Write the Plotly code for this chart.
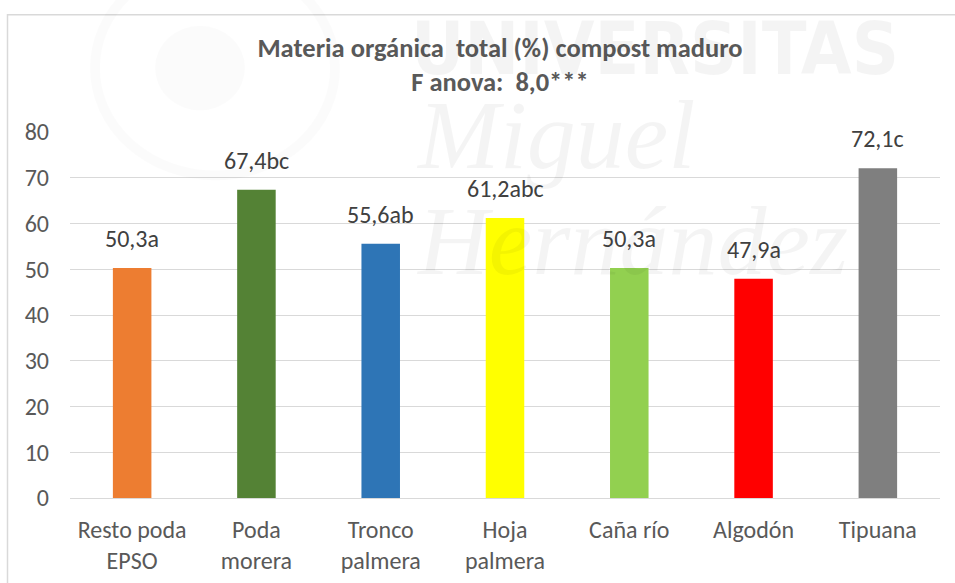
import plotly.graph_objects as go

categories = ["Resto poda<br>EPSO", "Poda<br>morera", "Tronco<br>palmera", "Hoja<br>palmera", "Caña río", "Algodón", "Tipuana"]
values = [50.3, 67.4, 55.6, 61.2, 50.3, 47.9, 72.1]
letters = ["a", "bc", "ab", "abc", "a", "a", "c"]
colors = ["#ED7D31", "#548235", "#2E75B6", "#FFFF00", "#92D050", "#FF0000", "#7F7F7F"]
y_ticks = [0, 10, 20, 30, 40, 50, 60, 70, 80]

FONT = "Carlito, Calibri, 'Liberation Sans Narrow', 'DejaVu Sans Condensed', sans-serif"

labels = [f"{v:.1f}".replace(".", ",") + l for v, l in zip(values, letters)]

W, H = 955, 583
L, R, T, B = 70, 15, 131.5, 85
PW, PH = W - L - R, H - T - B


def px(x):
    return (x - L) / PW


def py(y):
    return 1 + (T - y) / PH


fig = go.Figure()
fig.add_trace(go.Bar(
    x=categories, y=values,
    marker=dict(color=colors, line=dict(width=0)),
    width=0.31,
    hoverinfo="skip",
))

# watermark (faint)
wm = "rgba(0,0,0,0.045)"
fig.add_annotation(text="<b>UNIVERSITAS</b>", xref="paper", yref="paper",
                   x=px(409), y=py(92), xanchor="left", yanchor="bottom",
                   showarrow=False, font=dict(family="'DejaVu Sans Condensed', sans-serif", size=73, color=wm))
fig.add_annotation(text="<i>Miguel</i>", xref="paper", yref="paper",
                   x=px(414), y=py(191), xanchor="left", yanchor="bottom",
                   showarrow=False, font=dict(family="'Liberation Serif', serif", size=98, color=wm))
fig.add_annotation(text="<i>Hernández</i>", xref="paper", yref="paper",
                   x=px(414), y=py(297), xanchor="left", yanchor="bottom",
                   showarrow=False, font=dict(family="'Liberation Serif', serif", size=98, color=wm))
fig.add_shape(type="circle", xref="paper", yref="paper",
              x0=px(95), x1=px(335), y0=py(175), y1=py(-40),
              line=dict(color="rgba(0,0,0,0.015)", width=10), fillcolor="rgba(0,0,0,0)", layer="above")
fig.add_shape(type="circle", xref="paper", yref="paper",
              x0=px(155), x1=px(245), y0=py(110), y1=py(25),
              line=dict(width=0), fillcolor="rgba(0,0,0,0.015)", layer="above")

# data labels
for c, v, t in zip(categories, values, labels):
    fig.add_annotation(x=c, y=v, text=t, showarrow=False, yanchor="bottom", yshift=13,
                       font=dict(family=FONT, size=24, color="#404040"))

# chart frame
fig.add_shape(type="rect", xref="paper", yref="paper",
              x0=px(7.5), x1=1.2, y0=-0.5, y1=py(14),
              line=dict(color="#D9D9D9", width=1.5), fillcolor="rgba(0,0,0,0)", layer="below")

fig.update_layout(
    width=W, height=H,
    margin=dict(l=L, r=R, t=T, b=B),
    paper_bgcolor="white", plot_bgcolor="white",
    showlegend=False,
    bargap=0.69,
    title=dict(
        text="<b>Materia orgánica  total (%) compost maduro</b><br><b>F anova:  8,0***</b>",
        x=500 / W, xanchor="center", y=1 - 57 / H, yanchor="top",
        font=dict(family=FONT, size=26.5, color="#595959"),
    ),
    font=dict(family=FONT, size=24, color="#595959"),
)
fig.update_yaxes(range=[0, 80], tickvals=y_ticks, showgrid=True, gridcolor="#D9D9D9", gridwidth=1,
                 zeroline=False, showline=False, ticks="", ticklabelstandoff=20, automargin=False,
                 tickfont=dict(family=FONT, size=24, color="#595959"))
fig.update_xaxes(showline=True, linecolor="#D9D9D9", linewidth=1, ticks="", ticklabelstandoff=10,
                 automargin=False,
                 tickfont=dict(family=FONT, size=24, color="#595959"), tickangle=0)

fig.write_html("out.html", config={"displayModeBar": False},
               post_script="document.body.style.margin='0px';")
